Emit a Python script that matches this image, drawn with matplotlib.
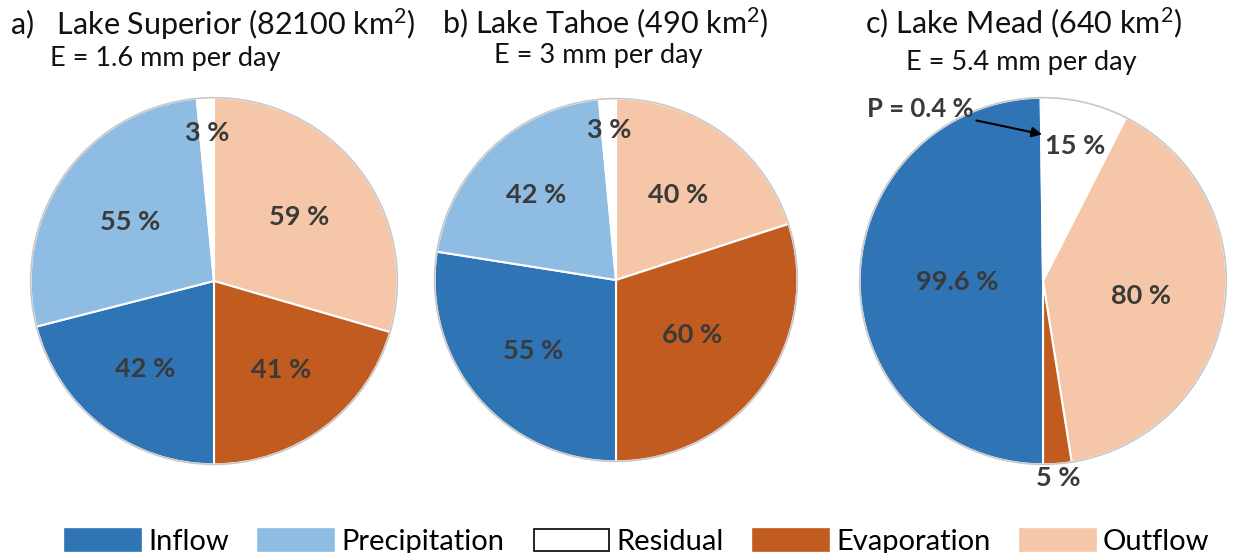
import numpy as np
import matplotlib.pyplot as plt
from matplotlib.patches import Patch, Circle

# budget shares, clockwise from 12 o'clock: outputs on the right half, inputs on the left
lakes = ["Lake Superior (82100 km$^2$)", "Lake Tahoe (490 km$^2$)", "Lake Mead (640 km$^2$)"]
tags = ["a)   ", "b) ", "c) "]
evap_rate = ["E = 1.6 mm per day", "E = 3 mm per day", "E = 5.4 mm per day"]

superior_names = ["Outflow", "Evaporation", "Inflow", "Precipitation", "Residual"]
superior_vals = [59, 41, 42, 55, 3]

tahoe_names = ["Outflow", "Evaporation", "Inflow", "Precipitation", "Residual"]
tahoe_vals = [40, 60, 55, 42, 3]

mead_names = ["Residual", "Outflow", "Evaporation", "Inflow", "Precipitation"]
mead_vals = [15, 80, 5, 99.6, 0.4]

legend_order = ["Inflow", "Precipitation", "Residual", "Evaporation", "Outflow"]

colors = {
    "Inflow": "#2F74B5",
    "Precipitation": "#8FBCE2",
    "Residual": "#FFFFFF",
    "Evaporation": "#C25B1F",
    "Outflow": "#F5C6A7",
}

plt.rcParams['font.family'] = ['Lato', 'DejaVu Sans']
plt.rcParams['mathtext.fontset'] = 'custom'
plt.rcParams['mathtext.rm'] = 'Lato'
plt.rcParams['mathtext.it'] = 'Lato'
plt.rcParams['mathtext.default'] = 'rm'

W, H = 1235, 553
fig = plt.figure(figsize=(W / 100, H / 100), dpi=100)

# pie centres and radii in pixels (from top-left)
centres = [(214, 281, 187), (616, 280, 185), (1043, 281, 187)]
# radial position of each label, as fraction of the radius
label_dist = [
    [0.58, 0.61, 0.61, 0.56, 0.81],
    [0.58, 0.52, 0.60, 0.64, 0.83],
    [0.76, 0.54, 1.08, 0.47, None],
]
data = [(superior_names, superior_vals), (tahoe_names, tahoe_vals), (mead_names, mead_vals)]

label_col = '#3A3A3A'
for k, ((names, vals), (cx, cy, r)) in enumerate(zip(data, centres)):
    ax = fig.add_axes([(cx - r) / W, (H - cy - r) / H, 2 * r / W, 2 * r / H])
    wedges, _ = ax.pie(vals, colors=[colors[n] for n in names], startangle=90,
                       counterclock=False, radius=1,
                       wedgeprops=dict(edgecolor='white', linewidth=1.5))
    ax.add_patch(Circle((0, 0), 1.0, fill=False, edgecolor='#C8C8C8', linewidth=1.2))
    ax.set_xlim(-1.02, 1.02)
    ax.set_ylim(-1.02, 1.02)
    ax.set_aspect('equal')
    ax.axis('off')
    for w, v, d in zip(wedges, vals, label_dist[k]):
        if d is None:
            continue
        th = np.deg2rad((w.theta1 + w.theta2) / 2)
        ax.text(d * np.cos(th), d * np.sin(th), f"{v:g} %", ha='center', va='center',
                fontsize=19.5, fontweight='bold', color=label_col, clip_on=False)
    if k == 2:
        w = wedges[-1]
        th = np.deg2rad((w.theta1 + w.theta2) / 2)
        ax.annotate("P = 0.4 %", xy=(0.8 * np.cos(th), 0.8 * np.sin(th)),
                    xytext=(-0.96, 0.94), ha='left', va='center',
                    fontsize=18.5, fontweight='bold', color=label_col,
                    arrowprops=dict(arrowstyle='-|>', color='black', lw=1.5,
                                    mutation_scale=15, shrinkA=0, shrinkB=0))

# titles
title_x = [10, 442, 865]
title_base = [35, 33, 33]
sub_x = [165, 598, 1021]
sub_base = [66, 63, 70]
for k in range(3):
    fig.text(title_x[k] / W, 1 - title_base[k] / H, tags[k] + lakes[k],
             ha='left', va='baseline', fontsize=22, color='#111111')
    fig.text(sub_x[k] / W, 1 - sub_base[k] / H, evap_rate[k],
             ha='center', va='baseline', fontsize=19.5, color='#111111')

handles = [Patch(facecolor=colors[n], edgecolor='black' if n == "Residual" else colors[n],
                 linewidth=1.2) for n in legend_order]
fig.legend(handles, legend_order, loc='lower center', bbox_to_anchor=(0.516, -0.025),
           ncol=5, frameon=False, fontsize=21, handlelength=2.6, handleheight=0.8,
           handletextpad=0.25, columnspacing=1.0, borderaxespad=0)

fig.savefig('out.png', dpi=100)
